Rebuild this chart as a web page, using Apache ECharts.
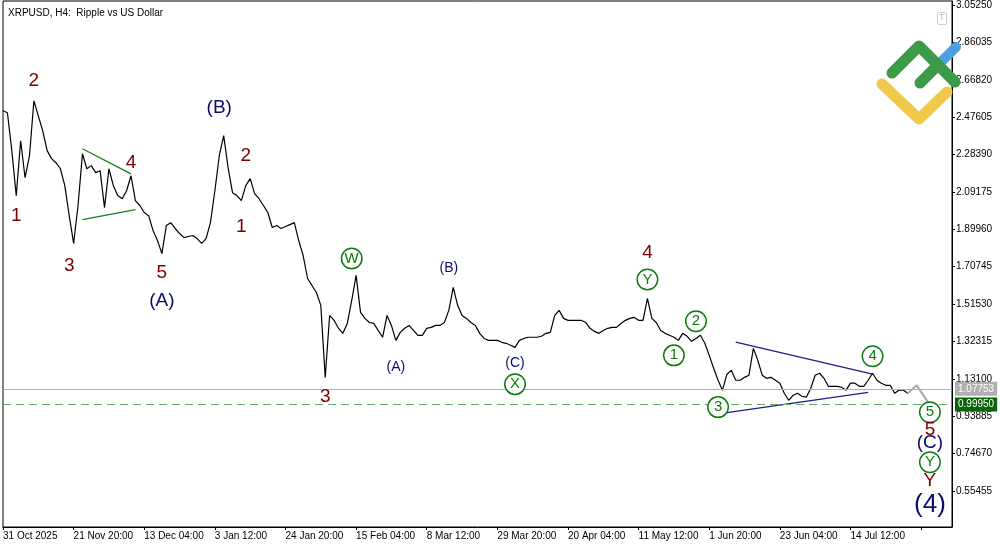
<!DOCTYPE html>
<html>
<head>
<meta charset="utf-8">
<script src="https://cdn.jsdelivr.net/npm/echarts@6/dist/echarts.min.js"></script>
<style>
    html, body { margin: 0; padding: 0; background: #fff; }
    #chart { width: 1000px; height: 545px; }
</style>
</head>
<body>
<div id="chart"></div>
<script>
    // tick labels
    var dateLabels = ['31 Oct 2025', '21 Nov 20:00', '13 Dec 04:00', '3 Jan 12:00', '24 Jan 20:00', '15 Feb 04:00',
        '8 Mar 12:00', '29 Mar 20:00', '20 Apr 04:00', '11 May 12:00', '1 Jun 20:00', '23 Jun 04:00', '14 Jul 12:00'];
    var priceTicks = [3.05250, 2.86035, 2.66820, 2.47605, 2.28390, 2.09175, 1.89960, 1.70745, 1.51530,
        1.32315, 1.13100, 0.93885, 0.74670, 0.55455];

    // price, one point per 8 H4 bars
    var close = [
        2.509, 2.499, 2.304, 2.073, 2.355, 2.165, 2.278, 2.560, 2.483, 2.406,
        2.304, 2.263, 2.242, 2.211, 2.124, 1.970, 1.827, 2.022, 2.288, 2.211,
        2.227, 2.191, 2.201, 2.011, 2.211, 2.124, 2.073, 2.057, 2.098, 2.175,
        2.047, 2.022, 1.986, 1.970, 1.893, 1.842, 1.775, 1.919, 1.934, 1.904,
        1.878, 1.857, 1.863, 1.868, 1.852, 1.827, 1.852, 1.934, 2.098, 2.278,
        2.381, 2.216, 2.088, 2.073, 2.047, 2.124, 2.160, 2.083, 2.057, 2.022,
        1.986, 1.909, 1.919, 1.904, 1.914, 1.924, 1.934, 1.842, 1.765, 1.647,
        1.611, 1.575, 1.509, 1.139, 1.457, 1.432, 1.391, 1.365, 1.416, 1.534,
        1.663, 1.473, 1.442, 1.421, 1.416, 1.380, 1.345, 1.457, 1.406, 1.329,
        1.370, 1.391, 1.406, 1.380, 1.355, 1.355, 1.391, 1.396, 1.406, 1.406,
        1.421, 1.483, 1.601, 1.509, 1.457, 1.442, 1.421, 1.406, 1.365, 1.339,
        1.329, 1.329, 1.329, 1.319, 1.314, 1.304, 1.293, 1.329, 1.339, 1.345,
        1.345, 1.345, 1.350, 1.365, 1.370, 1.457, 1.483, 1.442, 1.432, 1.432,
        1.432, 1.432, 1.421, 1.391, 1.375, 1.365, 1.380, 1.391, 1.396, 1.396,
        1.416, 1.432, 1.442, 1.447, 1.432, 1.432, 1.545, 1.442, 1.421, 1.380,
        1.365, 1.355, 1.345, 1.329, 1.365, 1.350, 1.324, 1.339, 1.355, 1.314,
        1.252, 1.186, 1.124, 1.073, 1.155, 1.175, 1.124, 1.124, 1.139, 1.150,
        1.288, 1.227, 1.150, 1.134, 1.139, 1.124, 1.109, 1.057, 1.021, 1.047,
        1.057, 1.042, 1.037, 1.083, 1.150, 1.160, 1.134, 1.093, 1.093, 1.093,
        1.088, 1.073, 1.109, 1.109, 1.093, 1.093, 1.124, 1.160, 1.124, 1.109,
        1.098, 1.098, 1.057, 1.073, 1.073, 1.057
    ];
    // forecast path [index, price]
    var forecast = [[205, 1.057], [207, 1.098], [210, 0.996]];
    var bidLevel = 1.07753;
    var targetLevel = 0.99950;

    // trend lines [[i, price], [i, price]]
    var greenUpper = [[18, 2.314], [29, 2.185]];
    var greenLower = [[18, 1.950], [30, 2.001]];
    var blueUpper = [[166, 1.320], [197, 1.155]];
    var blueLower = [[164, 0.958], [196, 1.062]];

    // wave labels [i, price, text, style]
    var waves = [
        [3, 1.970, '1', 'r'], [7, 2.663, '2', 'r'], [15, 1.714, '3', 'r'], [29, 2.242, '4', 'r'], [36, 1.678, '5', 'r'],
        [36, 1.534, '(A)', 'b'], [49, 2.524, '(B)', 'b'], [55, 2.278, '2', 'r'], [54, 1.914, '1', 'r'],
        [73, 1.037, '3', 'r'], [79, 1.750, 'W', 'c'], [89, 1.191, '(A)', 's'], [101, 1.698, '(B)', 's'],
        [116, 1.211, '(C)', 's'], [116, 1.104, 'X', 'c'], [146, 1.780, '4', 'r'], [146, 1.642, 'Y', 'c'],
        [157, 1.427, '2', 'c'], [152, 1.252, '1', 'c'], [162, 0.986, '3', 'c'], [197, 1.247, '4', 'c'],
        [210, 0.960, '5', 'c'], [210, 0.868, '5', 'r'], [210, 0.801, '(C)', 'b'], [210, 0.703, 'Y', 'c'],
        [210, 0.606, 'Y', 'r'], [210, 0.483, '(4)', 'L']
    ];

    var N = 216;
    var cats = [];
    for (var i = 0; i < N; i++) {
        cats.push(i % 16 == 0 && dateLabels[i / 16] ? dateLabels[i / 16] : '');
    }

    var font = '"Liberation Sans", Arial, sans-serif';
    var styles = {
        r: {color: '#7a0000', fontSize: 19},
        b: {color: '#0c0c70', fontSize: 19},
        s: {color: '#0c0c70', fontSize: 14},
        L: {color: '#0c0c70', fontSize: 26},
        c: {color: '#0e7a0e', fontSize: 15, borderColor: '#0e7a0e', borderWidth: 1.5, borderRadius: 11,
            width: 19, height: 19, lineHeight: 20, align: 'center', backgroundColor: '#fff'}
    };
    var waveData = waves.map(function (w) {
        var st = styles[w[3]];
        var lab = {show: true, position: 'inside', formatter: w[2], fontFamily: font};
        for (var k in st) lab[k] = st[k];
        return {value: [w[0], w[1]], label: lab};
    });

    function seg(d, color, width) {
        return {
            type: 'line', data: d, symbol: 'none', silent: true,
            lineStyle: {color: color, width: width}, z: 3
        };
    }

    var chart = echarts.init(document.getElementById('chart'));
    var option = {
        animation: false,
        title: {
            text: 'XRPUSD, H4:  Ripple vs US Dollar', left: 3, top: 3,
            textStyle: {fontSize: 10, fontWeight: 'normal', color: '#000', fontFamily: font}
        },
        grid: {left: 1, right: 48, top: 1, bottom: 18, show: true, borderColor: '#000', borderWidth: 1},
        xAxis: {
            type: 'category', data: cats, boundaryGap: false,
            axisLine: {lineStyle: {color: '#000'}},
            axisTick: {interval: 15, length: 3, lineStyle: {color: '#000'}},
            axisLabel: {interval: 15, align: 'left', fontSize: 10, color: '#000', fontFamily: font, margin: 4},
            splitLine: {show: false}
        },
        yAxis: {
            type: 'value', position: 'right', min: 0.3699, max: 3.073, scale: true,
            axisLine: {show: true, lineStyle: {color: '#000'}},
            axisTick: {show: true, length: 3, customValues: priceTicks, lineStyle: {color: '#000'}},
            axisLabel: {
                customValues: priceTicks, fontSize: 10, color: '#000', fontFamily: font, margin: 4,
                formatter: function (v) { return v.toFixed(5); }
            },
            splitLine: {show: false}
        },
        series: [
            {
                type: 'line', data: close, symbol: 'none', z: 4,
                lineStyle: {color: '#000', width: 1.2},
                markLine: {
                    symbol: 'none', silent: true,
                    data: [
                        {yAxis: bidLevel, lineStyle: {color: '#b0b0b0', type: 'solid', width: 1},
                            label: {position: 'end', formatter: bidLevel.toFixed(5), color: '#fff',
                                backgroundColor: '#b0b0b0', fontSize: 10, padding: [2, 3], distance: 3}},
                        {yAxis: targetLevel, lineStyle: {color: '#6aa86a', type: [8, 5], width: 1.2},
                            label: {position: 'end', formatter: targetLevel.toFixed(5), color: '#fff',
                                backgroundColor: '#0a640a', fontSize: 10, padding: [2, 3], distance: 3}}
                    ]
                }
            },
            {
                type: 'line', data: forecast, connectNulls: true, symbol: 'none', z: 4,
                lineStyle: {color: '#a8a8a8', width: 2}
            },
            seg(greenUpper, '#1b7a1b', 1.3),
            seg(greenLower, '#1b7a1b', 1.3),
            seg(blueUpper, '#1c1c8a', 1.3),
            seg(blueLower, '#1c1c8a', 1.3),
            {
                type: 'scatter', data: waveData, symbolSize: 0, z: 6, silent: true,
                itemStyle: {opacity: 1}
            }
        ],
        graphic: [
            {type: 'rect', left: 937, top: 12, shape: {width: 9, height: 12, r: 1},
                style: {fill: '#fff', stroke: '#ccc'}, z: 10},
            {type: 'text', left: 939, top: 13, style: {text: 'T', fontSize: 9, fill: '#bbb'}, z: 10},
            {type: 'polyline', shape: {points: [[882, 84], [919, 119], [947, 92]]}, z: 10,
                style: {stroke: '#f1c94a', lineWidth: 11, lineCap: 'round', lineJoin: 'round', fill: null}},
            {type: 'polyline', shape: {points: [[940, 63], [956, 47]]}, z: 10,
                style: {stroke: '#4ba0df', lineWidth: 10, lineCap: 'round', fill: null}},
            {type: 'polyline', shape: {points: [[892, 73], [919, 46], [955, 82]]}, z: 11,
                style: {stroke: '#3d9a48', lineWidth: 11, lineCap: 'round', lineJoin: 'round', fill: null}},
            {type: 'polyline', shape: {points: [[920, 83], [936, 67]]}, z: 11,
                style: {stroke: '#3d9a48', lineWidth: 11, lineCap: 'round', fill: null}}
        ]
    };
    chart.setOption(option);
</script>
</body>
</html>
